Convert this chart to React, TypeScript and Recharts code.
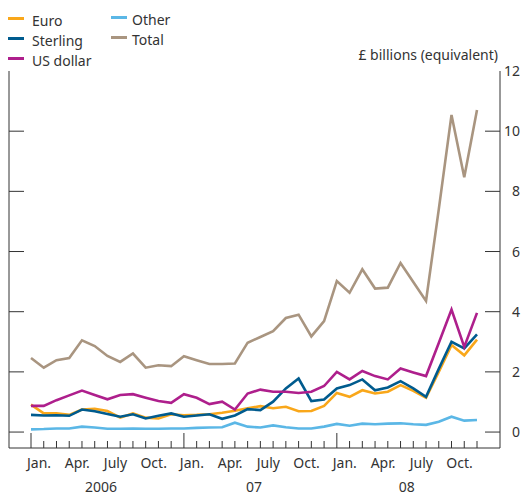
import React from "react";
import { LineChart, Line, XAxis, YAxis } from "recharts";

const monthNames = ["Jan", "Feb", "Mar", "Apr", "May", "Jun", "Jul", "Aug", "Sep", "Oct", "Nov", "Dec"];
const years = ["2006", "2007", "2008"];
const months = years.flatMap((y) => monthNames.map((m) => `${m} ${y}`));

const monthLabels = ["Jan.", "Apr.", "July", "Oct."];
const yearLabels = ["2006", "07", "08"];
const yTicks = [0, 2, 4, 6, 8, 10, 12];

const euro = [
  0.91, 0.62, 0.62, 0.57, 0.75, 0.77, 0.7, 0.48, 0.62, 0.48, 0.45, 0.59,
  0.56, 0.57, 0.59, 0.64, 0.71, 0.79, 0.86, 0.79, 0.84, 0.69, 0.7, 0.87,
  1.3, 1.17, 1.39, 1.28, 1.34, 1.56, 1.37, 1.14, 2.0, 2.89, 2.55, 3.07,
];
const sterling = [
  0.57, 0.55, 0.56, 0.54, 0.75, 0.69, 0.6, 0.51, 0.59, 0.45, 0.54, 0.62,
  0.51, 0.55, 0.59, 0.44, 0.55, 0.76, 0.73, 1.01, 1.45, 1.78, 1.03, 1.08,
  1.45, 1.56, 1.75, 1.39, 1.48, 1.69, 1.45, 1.17, 2.1, 3.0, 2.78, 3.25,
];
const usDollar = [
  0.87, 0.87, 1.06, 1.22, 1.38, 1.23, 1.09, 1.23, 1.26, 1.14, 1.03, 0.97,
  1.26, 1.14, 0.93, 1.01, 0.75, 1.28, 1.41, 1.34, 1.34, 1.3, 1.34, 1.53,
  2.0, 1.75, 2.03, 1.86, 1.75, 2.11, 1.98, 1.86, 2.96, 4.07, 2.83, 3.96,
];
const other = [
  0.09, 0.1, 0.12, 0.12, 0.18, 0.15, 0.11, 0.11, 0.12, 0.11, 0.11, 0.12,
  0.12, 0.14, 0.15, 0.16, 0.31, 0.18, 0.15, 0.22, 0.16, 0.12, 0.12, 0.18,
  0.27, 0.21, 0.28, 0.26, 0.28, 0.29, 0.26, 0.24, 0.34, 0.51, 0.38, 0.4,
];
const total = [
  2.46, 2.14, 2.39, 2.46, 3.05, 2.86, 2.53, 2.33, 2.61, 2.14, 2.22, 2.19,
  2.52, 2.39, 2.26, 2.26, 2.28, 2.97, 3.16, 3.35, 3.79, 3.9, 3.18, 3.69,
  5.02, 4.63, 5.41, 4.77, 4.8, 5.62, 4.99, 4.36, 7.4, 10.54, 8.47, 10.7,
];

const data = months.map((m, i) => ({
  month: m,
  euro: euro[i],
  sterling: sterling[i],
  usDollar: usDollar[i],
  other: other[i],
  total: total[i],
}));

const series = [
  { key: "other", name: "Other", color: "#5bb7e6" },
  { key: "total", name: "Total", color: "#a99580" },
  { key: "euro", name: "Euro", color: "#f9a71a" },
  { key: "sterling", name: "Sterling", color: "#005b8e" },
  { key: "usDollar", name: "US dollar", color: "#ae1f8c" },
];

const legendCols = [
  ["euro", "sterling", "usDollar"],
  ["other", "total"],
];

const AXIS = "#333";
const TEXT = "#333";
const FONT = "'Noto Sans', sans-serif";

const MonthTick = (props: any) => {
  const { x, y, index } = props;
  const isJan = index % 12 === 0;
  return (
    <g>
      <line x1={x} x2={x} y1={y} y2={y - (isJan ? 15 : 7)} stroke={AXIS} strokeWidth={1} />
      {index % 3 === 0 && (
        <text x={x + 8} y={y + 20} textAnchor="middle" fill={TEXT} fontSize={14} fontFamily={FONT}>
          {monthLabels[(index % 12) / 3]}
        </text>
      )}
      {index % 12 === 6 && (
        <text x={x - 6.4} y={y + 44} textAnchor="middle" fill={TEXT} fontSize={14} fontFamily={FONT}>
          {yearLabels[Math.floor(index / 12)]}
        </text>
      )}
    </g>
  );
};

const RightTick = (props: any) => {
  const { x, y, payload } = props;
  return (
    <g>
      {payload.value !== 12 && <line x1={x - 15} x2={x} y1={y} y2={y} stroke={AXIS} strokeWidth={1} />}
      <text x={x + 20} y={y + 5} textAnchor="end" fill={TEXT} fontSize={14} fontFamily={FONT}>
        {payload.value}
      </text>
    </g>
  );
};

const LeftTick = (props: any) => {
  const { x, y, payload } = props;
  if (payload.value === 12) return <g />;
  return <line x1={x} x2={x + 15} y1={y} y2={y} stroke={AXIS} strokeWidth={1} />;
};

export default function App() {
  const byKey: Record<string, { name: string; color: string }> = {};
  series.forEach((s) => (byKey[s.key] = s));
  return (
    <div style={{ position: "absolute", left: 0, top: 0, width: 522, height: 496, background: "#fff", fontFamily: FONT }}>
      {legendCols.map((col, ci) => (
        <div key={ci} style={{ position: "absolute", left: ci === 0 ? 8 : 111, top: ci === 0 ? 10 : 9 }}>
          {col.map((k) => (
            <div key={k} style={{ display: "flex", alignItems: "center", height: 20, fontSize: 14, color: TEXT }}>
              <span style={{ display: "inline-block", width: 16, height: 3, background: byKey[k].color, marginRight: ci === 0 ? 8 : 5, marginTop: -3 }} />
              <span>{byKey[k].name}</span>
            </div>
          ))}
        </div>
      ))}
      <div style={{ position: "absolute", right: 24, top: 45, fontSize: 14, color: TEXT, whiteSpace: "nowrap" }}>
        £ billions (equivalent)
      </div>
      <LineChart width={522} height={496} data={data} margin={{ top: 71, right: 0, bottom: 0, left: 0 }}>
        <XAxis
          dataKey="month"
          interval={0}
          height={48}
          padding={{ left: 22, right: 23 }}
          tickSize={0}
          tickMargin={0}
          axisLine={{ stroke: AXIS, strokeWidth: 1 }}
          tickLine={false}
          tick={<MonthTick />}
        />
        <XAxis
          xAxisId="top"
          dataKey="month"
          orientation="top"
          height={0}
          padding={{ left: 22, right: 23 }}
          tick={false}
          tickLine={false}
          axisLine={{ stroke: AXIS, strokeWidth: 1 }}
        />
        <YAxis
          orientation="right"
          width={22}
          domain={[-0.53, 12]}
          ticks={yTicks}
          allowDataOverflow
          tickSize={0}
          tickMargin={0}
          tickLine={false}
          axisLine={{ stroke: AXIS, strokeWidth: 1 }}
          tick={<RightTick />}
        />
        <YAxis
          yAxisId="left"
          orientation="left"
          width={9}
          domain={[-0.53, 12]}
          ticks={yTicks}
          allowDataOverflow
          tickSize={0}
          tickMargin={0}
          tickLine={false}
          axisLine={{ stroke: AXIS, strokeWidth: 1 }}
          tick={<LeftTick />}
        />
        {series.map((s) => (
          <Line
            key={s.key}
            type="linear"
            dataKey={s.key}
            name={s.name}
            stroke={s.color}
            strokeWidth={2.6}
            dot={false}
            isAnimationActive={false}
          />
        ))}
      </LineChart>
    </div>
  );
}
